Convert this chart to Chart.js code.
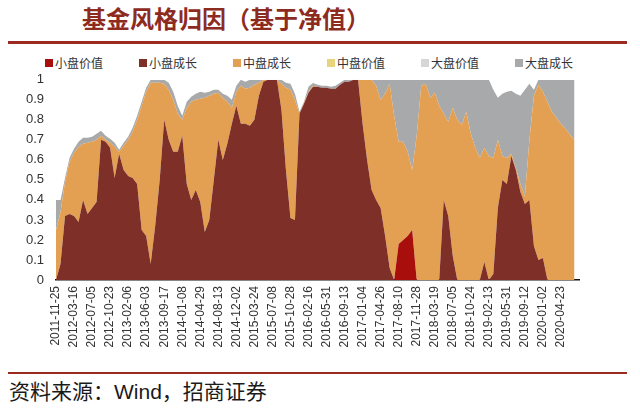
<!DOCTYPE html>
<html>
<head>
<meta charset="utf-8">
<script src="https://cdn.jsdelivr.net/npm/chart.js@4.4.1/dist/chart.umd.min.js"></script>
<style>
  body { margin: 0; width: 640px; height: 415px; background: #fff; position: relative; overflow: hidden; font-family: "Noto Sans CJK SC", sans-serif; }
  #title { position: absolute; left: 82px; top: 1px; font-size: 24px; font-weight: bold; color: #8e2b1f; line-height: 34px; }
  .rule { position: absolute; left: 8px; width: 619px; height: 3px; background: #9b2a21; }
  .item { position: absolute; top: 55px; height: 16px; font-size: 12px; line-height: 16px; color: #333; white-space: nowrap; padding-left: 10px; }
  .item span { position: absolute; left: 0; top: 4px; width: 8px; height: 8px; }
  #chartBox { position: absolute; left: 0; top: 60px; width: 620px; height: 300px; }
  #source { position: absolute; left: 9px; top: 375px; font-size: 21px; line-height: 30px; color: #1a1a1a; }
  #source b { font-family: "Liberation Sans", Arial, sans-serif; font-weight: normal; }
</style>
</head>
<body>
<div id="title">基金风格归因（基于净值）</div>
<div class="rule" style="top:41px"></div>
<div id="legend"></div>
<div id="chartBox"><canvas id="chart"></canvas></div>
<div class="rule" style="top:372px;height:2px"></div>
<div id="source">资料来源：<b>Wind</b>，招商证券</div>

<script>
// tick labels on the x axis, one every 4 data points
const tickLabels = ['2011-11-25','2012-03-16','2012-07-05','2012-10-23','2013-02-06','2013-06-03','2013-09-17','2014-01-08','2014-04-29','2014-08-13','2014-12-02','2015-03-24','2015-07-08','2015-10-28','2016-02-16','2016-05-31','2016-09-13','2017-01-04','2017-04-26','2017-08-10','2017-11-28','2018-03-19','2018-07-05','2018-10-24','2019-02-13','2019-05-31','2019-09-12','2020-01-02','2020-04-23']

const seriesNames = ['小盘价值', '小盘成长', '中盘成长', '中盘价值', '大盘价值', '大盘成长']
const seriesColors = ['#a80f0c', '#7d2f28', '#e3a052', '#e8d47c', '#d6d6d6', '#a8a9aa']

// style shares (4 points per tick interval)
const smallValue = [
  0, 0, 0, 0,   0, 0, 0, 0,   0, 0, 0, 0,   0, 0, 0, 0,   0, 0, 0, 0,
  0, 0, 0, 0,   0, 0, 0, 0,   0, 0, 0, 0,   0, 0, 0, 0,   0, 0, 0, 0,
  0, 0, 0, 0,   0, 0, 0, 0,   0, 0, 0, 0,   0, 0, 0, 0,   0, 0, 0, 0,
  0, 0, 0, 0,   0, 0, 0, 0,   0, 0, 0, 0,   0, 0, 0, 0,   0.18, 0.20, 0.22, 0.25,
  0, 0, 0, 0,   0, 0, 0, 0,   0, 0, 0, 0,   0, 0, 0, 0,   0, 0, 0, 0,
  0, 0, 0, 0,   0, 0, 0, 0,   0, 0, 0, 0,   0, 0, 0, 0,   0
]
const smallGrowth = [
  0, 0.08, 0.32, 0.33,   0.32, 0.29, 0.40, 0.33,   0.36, 0.39, 0.70, 0.69,   0.66, 0.51, 0.63, 0.55,
  0.52, 0.51, 0.48, 0.25,   0.22, 0.08, 0.27, 0.50,   0.80, 0.70, 0.64, 0.64,   0.72, 0.48, 0.40, 0.45,
  0.39, 0.24, 0.30, 0.50,   0.70, 0.60, 0.68, 0.78,   0.87, 0.78, 0.78, 0.77,   0.80, 0.92, 0.99, 1.00,
  1.00, 1.00, 0.85, 0.55,   0.31, 0.30, 0.83, 0.88,   0.935, 0.965, 0.965, 0.96,   0.96, 0.955, 0.955, 0.975,
  0.99, 0.99, 1.00, 1.00,   0.78, 0.60, 0.45, 0.40,   0.36, 0.22, 0.06, 0,   0, 0, 0, 0,
  0, 0, 0, 0,   0, 0, 0.40, 0.32,   0.12, 0, 0, 0,   0, 0, 0, 0.09,
  0, 0.03, 0.36, 0.50,   0.48, 0.62, 0.55, 0.44,   0.38, 0.40, 0.17, 0.10,   0.11, 0, 0, 0,
  0, 0, 0, 0,   0
]
const midGrowth = [
  0.25, 0.26, 0.17, 0.26,   0.315, 0.375, 0.28, 0.355,   0.33, 0.31, 0.02, 0.01,   0.025, 0.155, 0.01, 0.12,
  0.18, 0.23, 0.32, 0.62,   0.72, 0.905, 0.715, 0.485,   0.18, 0.25, 0.26, 0.19,   0.08, 0.38, 0.49, 0.45,
  0.515, 0.67, 0.62, 0.43,   0.235, 0.31, 0.21, 0.08,   0.07, 0.19, 0.175, 0.19,   0.175, 0.065, 0.01, 0,
  0, 0, 0.13, 0.41,   0.64, 0.60, 0, 0.005,   0.005, 0.005, 0, 0,   0, 0, 0, 0,
  0, 0, 0, 0,   0.22, 0.40, 0.55, 0.57,   0.54, 0.71, 0.92, 0.82,   0.51, 0.49, 0.42, 0.30,
  0.72, 0.97, 0.98, 0.91,   0.935, 0.87, 0.43, 0.47,   0.74, 0.80, 0.775, 0.84,   0.73, 0.66, 0.61, 0.57,
  0.62, 0.58, 0.34, 0.12,   0.13, 0.01, 0.01, 0.04,   0.04, 0.30, 0.75, 0.875,   0.83, 0.89, 0.84, 0.81,
  0.78, 0.755, 0.725, 0.70,   0.695
]
const midValue = [
  0, 0, 0, 0,   0, 0, 0, 0,   0, 0, 0, 0,   0, 0, 0, 0,   0, 0, 0, 0,
  0, 0, 0, 0,   0, 0, 0, 0,   0, 0, 0, 0,   0, 0, 0, 0,   0, 0, 0, 0,
  0, 0, 0, 0,   0, 0, 0, 0,   0, 0, 0, 0,   0, 0, 0, 0,   0, 0, 0, 0,
  0, 0, 0, 0,   0, 0, 0, 0,   0, 0, 0, 0,   0, 0, 0, 0,   0, 0, 0, 0,
  0, 0, 0, 0,   0, 0, 0, 0,   0, 0, 0, 0,   0, 0, 0, 0,   0, 0, 0, 0,
  0, 0, 0, 0,   0, 0, 0, 0,   0, 0, 0, 0,   0, 0, 0, 0,   0
]
const largeValue = [
  0, 0, 0, 0,   0, 0, 0, 0,   0, 0, 0, 0,   0, 0, 0, 0,   0, 0, 0, 0,
  0, 0, 0, 0,   0, 0, 0, 0,   0, 0, 0, 0,   0, 0, 0, 0,   0, 0, 0, 0,
  0, 0, 0, 0,   0, 0, 0, 0,   0, 0, 0, 0,   0, 0, 0, 0,   0, 0, 0, 0,
  0, 0, 0, 0,   0, 0, 0, 0,   0, 0, 0, 0,   0, 0, 0, 0,   0, 0, 0, 0,
  0, 0, 0, 0,   0, 0, 0, 0,   0, 0, 0, 0,   0, 0, 0, 0,   0, 0, 0, 0,
  0, 0, 0, 0,   0, 0, 0, 0,   0, 0, 0, 0,   0, 0, 0, 0,   0
]
const largeGrowth = [
  0.15, 0.06, 0.02, 0.02,   0.02, 0.025, 0.03, 0.025,   0.025, 0.03, 0.025, 0.02,   0.02, 0.02, 0.01, 0.015,
  0.015, 0.02, 0.02, 0.02,   0.02, 0.015, 0.015, 0.015,   0.02, 0.035, 0.04, 0.04,   0.02, 0.03, 0.025, 0.03,
  0.035, 0.025, 0.02, 0.02,   0.015, 0.02, 0.03, 0.04,   0.03, 0.03, 0.035, 0.04,   0.025, 0.015, 0, 0,
  0, 0, 0.02, 0.025,   0.03, 0.03, 0.01, 0.005,   0.025, 0.014, 0.01, 0.01,   0.01, 0.01, 0.015, 0.01,
  0.01, 0.01, 0, 0,   0, 0, 0, 0.03,   0.10, 0.07, 0.02, 0.18,   0.31, 0.31, 0.36, 0.45,
  0.28, 0.03, 0.02, 0.09,   0.065, 0.13, 0.17, 0.21,   0.14, 0.20, 0.225, 0.16,   0.27, 0.34, 0.39, 0.34,
  0.38, 0.34, 0.21, 0.31,   0.33, 0.315, 0.37, 0.44,   0.53, 0.28, 0.03, 0.025,   0.06, 0.11, 0.16, 0.19,
  0.22, 0.245, 0.275, 0.30,   0.305
]

const yTicks = [0, 0.1, 0.2, 0.3, 0.4, 0.5, 0.6, 0.7, 0.8, 0.9, 1]

const seriesData = [smallValue, smallGrowth, midGrowth, midValue, largeValue, largeGrowth]
const labels = smallGrowth.map((v, i) => (i % 4 === 0 ? tickLabels[i / 4] : ''))

// legend (html, so the spacing matches)
const legendBox = document.getElementById('legend')
seriesNames.forEach((name, i) => {
  const item = document.createElement('div')
  item.className = 'item'
  item.style.left = (45 + i * 94) + 'px'
  item.innerHTML = `<span style="background:${seriesColors[i]}"></span>${name}`
  legendBox.appendChild(item)
})

Chart.defaults.font.family = '"Liberation Sans", Arial, sans-serif'
Chart.defaults.color = '#333'

const ctx = document.getElementById('chart')
new Chart(ctx, {
  type: 'line',
  data: {
    labels: labels,
    datasets: seriesNames.map((name, i) => ({
      label: name,
      data: seriesData[i],
      backgroundColor: seriesColors[i],
      borderColor: 'transparent',
      borderWidth: 0,
      pointRadius: 0,
      tension: 0,
      fill: i === 0 ? 'origin' : '-1',
    })),
  },
  options: {
    responsive: true,
    maintainAspectRatio: false,
    animation: false,
    layout: { padding: { top: 15, right: 41, left: 0, bottom: 0 } },
    plugins: {
      legend: { display: false },
      tooltip: { enabled: false },
    },
    scales: {
      x: {
        grid: { display: false, drawTicks: false },
        border: { display: true, color: '#111', width: 1.5 },
        ticks: {
          autoSkip: false,
          minRotation: 90,
          maxRotation: 90,
          padding: 6,
          font: { size: 12 },
          color: '#333',
        },
        afterFit: (scale) => { scale.height = 80 },
      },
      y: {
        stacked: true,
        min: 0,
        max: 1,
        grid: { display: false, drawTicks: false },
        border: { display: false },
        afterBuildTicks: (scale) => { scale.ticks = yTicks.map(v => ({ value: v })) },
        ticks: {
          padding: 12,
          font: { size: 13 },
          color: '#333',
          callback: (v) => String(Math.round(v * 10) / 10),
        },
        afterFit: (scale) => { scale.width = 56 },
      },
    },
  },
})
</script>
</body>
</html>
